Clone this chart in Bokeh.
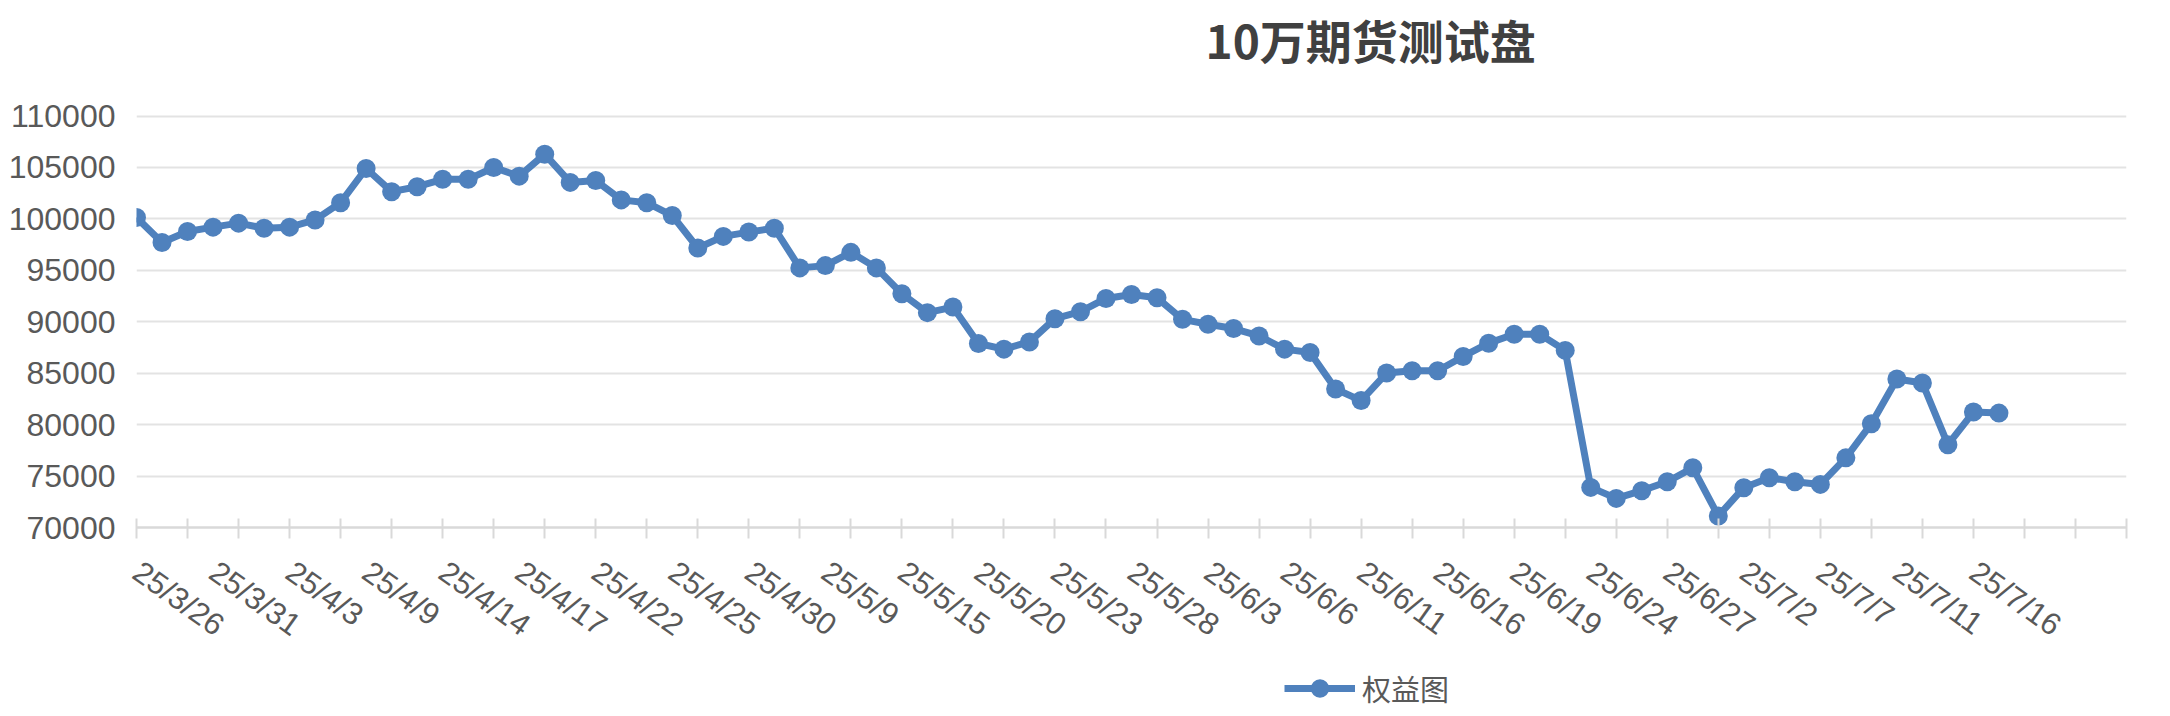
from bokeh.plotting import figure
from bokeh.layouts import column
from bokeh.models import (Range1d, FixedTicker, Legend, LegendItem, Label,
                          ColumnDataSource, NumeralTickFormatter)
from bokeh.embed import file_html
from bokeh.resources import INLINE

# ---------------- data ----------------
title_text = "10万期货测试盘"
series_name = "权益图"

x_labels = ["25/3/26", "25/3/31", "25/4/3", "25/4/9", "25/4/14", "25/4/17",
            "25/4/22", "25/4/25", "25/4/30", "25/5/9", "25/5/15", "25/5/20",
            "25/5/23", "25/5/28", "25/6/3", "25/6/6", "25/6/11", "25/6/16",
            "25/6/19", "25/6/24", "25/6/27", "25/7/2", "25/7/7", "25/7/11",
            "25/7/16"]
label_every = 3          # one date label every 3 trading days
tick_every = 2           # one tick mark every 2 trading days
axis_slots = 78          # category axis length (last slot index)

equity = [100130, 97700, 98780, 99200, 99590, 99100, 99200, 99900, 101580, 104900,
          102650, 103130, 103850, 103850, 105000, 104160, 106290, 103550, 103740, 101850,
          101580, 100330, 97170, 98300, 98720, 99100, 95240, 95460, 96750, 95240,
          92720, 90890, 91430, 87890, 87340, 88040, 90300, 90980, 92270, 92660,
          92340, 90240, 89760, 89340, 88620, 87340, 87020, 83470, 82340, 85020,
          85240, 85240, 86630, 87920, 88790, 88790, 87220, 73900, 72830, 73580,
          74450, 75800, 71120, 73870, 74840, 74450, 74190, 76770, 80090, 84440,
          84050, 78050, 81220, 81120]

y_ticks = [70000, 75000, 80000, 85000, 90000, 95000, 100000, 105000, 110000]

# ---------------- layout geometry (pixels) ----------------
W = 2170
MAIN_H = 660
LEG_H = 56
FRAME_LEFT = 136
FRAME_RIGHT_PAD = 44
FRAME_BOTTOM = 529            # pixel row of the x axis
GRID_TOP = 116                # pixel row of the highest gridline
# the frame starts at the top of the canvas so the title can sit inside it
y_end = y_ticks[0] + (y_ticks[-1] - y_ticks[0]) * FRAME_BOTTOM / (FRAME_BOTTOM - GRID_TOP)

BLUE = "#4f81bd"
GREY_TXT = "#595959"

src = ColumnDataSource(dict(x=list(range(len(equity))), y=equity))

# ---------------- main figure ----------------
p = figure(width=W, height=MAIN_H, output_backend="svg", toolbar_location=None,
           x_range=Range1d(0, axis_slots), y_range=Range1d(y_ticks[0], y_end),
           min_border_left=FRAME_LEFT, min_border_right=FRAME_RIGHT_PAD,
           min_border_top=0, min_border_bottom=MAIN_H - FRAME_BOTTOM)
p.outline_line_color = None
p.background_fill_color = "white"
p.border_fill_color = "white"

# y axis
p.yaxis.ticker = FixedTicker(ticks=y_ticks)
p.yaxis.formatter = NumeralTickFormatter(format="0")
p.yaxis.axis_line_color = None
p.yaxis.major_tick_line_color = None
p.yaxis.minor_tick_line_color = None
p.yaxis.major_tick_in = 0
p.yaxis.major_tick_out = 0
p.yaxis.major_label_standoff = 21
p.yaxis.major_label_text_font = "Liberation Sans"
p.yaxis.major_label_text_font_size = "32px"
p.yaxis.major_label_text_color = GREY_TXT

# x axis
p.xaxis.ticker = FixedTicker(
    ticks=list(range(0, len(x_labels) * label_every, label_every)),
    minor_ticks=list(range(0, axis_slots + 1, tick_every)))
p.xaxis.major_label_overrides = {i * label_every: lab for i, lab in enumerate(x_labels)}
p.xaxis.major_tick_line_color = None
p.xaxis.major_tick_in = 0
p.xaxis.major_tick_out = 0
p.xaxis.minor_tick_line_color = "#d9d9d9"
p.xaxis.minor_tick_line_width = 2
p.xaxis.minor_tick_in = 9
p.xaxis.minor_tick_out = 11
p.xaxis.axis_line_color = "#d9d9d9"
p.xaxis.axis_line_width = 2.5
p.xaxis.major_label_orientation = -0.62
p.xaxis.major_label_standoff = 30
p.xaxis.major_label_text_font = "Liberation Sans"
p.xaxis.major_label_text_font_size = "31px"
p.xaxis.major_label_text_color = GREY_TXT

# grid
p.xgrid.grid_line_color = None
p.ygrid.ticker = FixedTicker(ticks=y_ticks)
p.ygrid.grid_line_color = "#e3e3e3"
p.ygrid.grid_line_width = 2

# series
p.line("x", "y", source=src, line_color=BLUE, line_width=7, line_join="round")
p.scatter("x", "y", source=src, size=19, fill_color=BLUE, line_color=None)

# title (inside the frame, above the top gridline)
p.add_layout(Label(x=1205 - FRAME_LEFT, y=FRAME_BOTTOM - 40, x_units="screen", y_units="screen",
                   text=title_text, text_font="Noto Sans CJK SC", text_font_size="46px",
                   text_font_style="bold", text_color="#404040",
                   text_align="left", text_baseline="middle"))

# ---------------- legend strip ----------------
q = figure(width=W, height=LEG_H, output_backend="svg", toolbar_location=None,
           x_range=Range1d(0, 1), y_range=Range1d(0, 1),
           x_axis_type=None, y_axis_type=None, min_border=0)
q.outline_line_color = None
q.background_fill_color = "white"
q.border_fill_color = "white"
# same series drawn off-range (invisible) so the legend can show its glyph
l_line = q.line("x", "y", source=src, line_color=BLUE, line_width=7)
l_pts = q.scatter("x", "y", source=src, size=19, fill_color=BLUE, line_color=None)
# the column aligns this strip's frame with the main frame (left edge at FRAME_LEFT)
q.add_layout(Legend(items=[LegendItem(label=series_name, renderers=[l_line, l_pts])],
                    location=(1284 - FRAME_LEFT, 5), orientation="horizontal",
                    glyph_width=71, glyph_height=46, label_standoff=7,
                    padding=0, margin=0, border_line_color=None,
                    background_fill_alpha=0,
                    label_text_font="Noto Sans CJK SC", label_text_font_size="29px",
                    label_text_color=GREY_TXT), "center")

layout = column(p, q, spacing=0)
open("out.html", "w").write(file_html(layout, INLINE))
